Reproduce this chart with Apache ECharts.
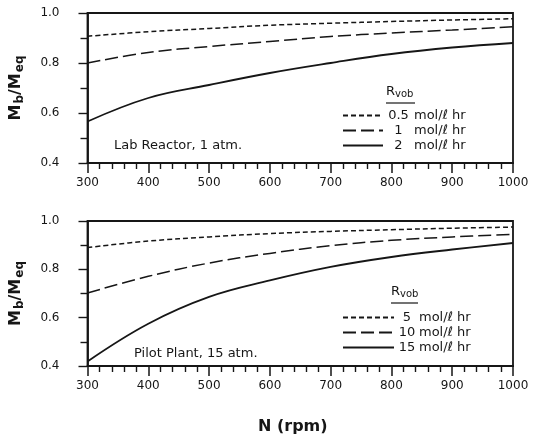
<!DOCTYPE html>
<html>
<head>
<meta charset="utf-8">
<script src="https://cdn.jsdelivr.net/npm/echarts@6/dist/echarts.min.js"></script>
<style>
  html, body { margin: 0; padding: 0; background: #fff; }
  #main { width: 533px; height: 440px; }
</style>
</head>
<body>
<div id="main"></div>
<script>
// N (rpm) positions
var rpm = [300, 400, 500, 600, 700, 800, 900, 1000];

// top panel: Lab Reactor, 1 atm
var labNames = ['0.5', '1', '2'];
var lab05 = [0.907, 0.925, 0.938, 0.951, 0.959, 0.966, 0.972, 0.977];
var lab1 = [0.800, 0.842, 0.866, 0.886, 0.906, 0.920, 0.932, 0.945];
var lab2 = [0.566, 0.660, 0.712, 0.760, 0.800, 0.836, 0.862, 0.880];

// bottom panel: Pilot Plant, 15 atm
var pilotNames = ['5', '10', '15'];
var pilot5 = [0.890, 0.917, 0.934, 0.948, 0.957, 0.964, 0.970, 0.975];
var pilot10 = [0.702, 0.771, 0.826, 0.866, 0.898, 0.920, 0.934, 0.945];
var pilot15 = [0.419, 0.575, 0.686, 0.754, 0.810, 0.851, 0.882, 0.909];

var yTicks = [0.4, 0.6, 0.8, 1.0];

var ink = '#161616';
var font = 'DejaVu Sans, Verdana, sans-serif';
var dashes = [[5, 3], [13, 5], null];

function pairs(ys) {
    var out = [];
    for (var i = 0; i < rpm.length; i++) out.push([rpm[i], ys[i]]);
    return out;
}

function xAxisFor(idx) {
    return {
        gridIndex: idx, type: 'value', min: 300, max: 1000, interval: 100,
        axisLine: { lineStyle: { color: ink, width: 1.8 } },
        axisTick: { length: 10, lineStyle: { color: ink, width: 1.5 } },
        minorTick: { show: true, splitNumber: 5, length: 6, lineStyle: { color: ink, width: 1.4 } },
        splitLine: { show: false },
        axisLabel: { color: ink, fontSize: 12, fontFamily: font, margin: 14,
            formatter: function (v) { return String(v); } }
    };
}

function yAxisFor(idx) {
    return {
        gridIndex: idx, type: 'value', min: 0.4, max: 1.0, interval: 0.2,
        name: 'M{s|b}/M{s|eq}', nameLocation: 'middle', nameGap: 62,
        nameTextStyle: {
            color: ink, fontSize: 16, fontWeight: 'bold', fontFamily: font,
            rich: { s: { fontSize: 12, fontWeight: 'bold', fontFamily: font, padding: [7, 0, 0, 1] } }
        },
        axisLine: { lineStyle: { color: ink, width: 1.8 } },
        axisTick: { length: 9, lineStyle: { color: ink, width: 1.4 } },
        minorTick: { show: true, splitNumber: 2, length: 7, lineStyle: { color: ink, width: 1.4 } },
        splitLine: { show: false },
        axisLabel: {
            color: ink, fontSize: 12, fontFamily: font, margin: 28,
            formatter: function (v) { return yTicks.indexOf(+v.toFixed(1)) >= 0 ? v.toFixed(1) : ''; }
        }
    };
}

function lineSeries(name, ys, idx, k) {
    return {
        name: name, type: 'line', xAxisIndex: idx, yAxisIndex: idx,
        data: pairs(ys), smooth: 0.4, symbol: 'none', silent: true,
        itemStyle: { color: ink },
        lineStyle: { color: ink, width: k === 2 ? 1.8 : 1.5, type: dashes[k] || 'solid' }
    };
}

function legendFor(names, left, top, lineLen, numWidth, gap) {
    return {
        orient: 'vertical', left: left, top: top, data: names,
        itemWidth: lineLen, itemHeight: 14, itemGap: 2, padding: 0,
        selectedMode: false,
        itemStyle: { opacity: 0 },
        formatter: function (n) { return '{n|' + n + '}{u|mol/ℓ hr}'; },
        textStyle: {
            color: ink, fontSize: 13, fontFamily: font,
            rich: {
                n: { width: numWidth, align: 'right', fontSize: 13, fontFamily: font, color: ink },
                u: { padding: [0, 0, 0, gap], fontSize: 13, fontFamily: font, color: ink }
            }
        }
    };
}

var myChart = echarts.init(document.getElementById('main'));

var option = {
    backgroundColor: '#fff',
    animation: false,
    grid: [
        { left: 86, top: 13, width: 427, height: 150, show: true, borderColor: ink, borderWidth: 1.8 },
        { left: 86, top: 221, width: 427, height: 145, show: true, borderColor: ink, borderWidth: 1.8 }
    ],
    xAxis: [xAxisFor(0), xAxisFor(1)],
    yAxis: [yAxisFor(0), yAxisFor(1)],
    legend: [
        legendFor(labNames, 342, 109, 40, 21, 5),
        legendFor(pilotNames, 342, 311, 51, 16, 4)
    ],
    series: [
        lineSeries('0.5', lab05, 0, 0),
        lineSeries('1', lab1, 0, 1),
        lineSeries('2', lab2, 0, 2),
        lineSeries('5', pilot5, 1, 0),
        lineSeries('10', pilot10, 1, 1),
        lineSeries('15', pilot15, 1, 2)
    ],
    graphic: [
        { type: 'text', left: 386, top: 85, style: { text: 'R{s|vob}', fill: ink, font: '13px ' + font,
            rich: { s: { fontSize: 10, fontFamily: font, padding: [5, 0, 0, 0] } } } },
        { type: 'line', shape: { x1: 386, y1: 103, x2: 415, y2: 103 }, style: { stroke: ink, lineWidth: 1.2 } },
        { type: 'text', left: 391, top: 285, style: { text: 'R{s|vob}', fill: ink, font: '13px ' + font,
            rich: { s: { fontSize: 10, fontFamily: font, padding: [5, 0, 0, 0] } } } },
        { type: 'line', shape: { x1: 391, y1: 303, x2: 418, y2: 303 }, style: { stroke: ink, lineWidth: 1.2 } },
        { type: 'text', left: 114, top: 139, style: { text: 'Lab Reactor, 1 atm.', fill: ink, font: '13px ' + font } },
        { type: 'text', left: 134, top: 347, style: { text: 'Pilot Plant, 15 atm.', fill: ink, font: '13px ' + font } },
        { type: 'text', left: 258, top: 419, style: { text: 'N (rpm)', fill: ink, font: 'bold 16px ' + font } }
    ]
};

myChart.setOption(option);
</script>
</body>
</html>
